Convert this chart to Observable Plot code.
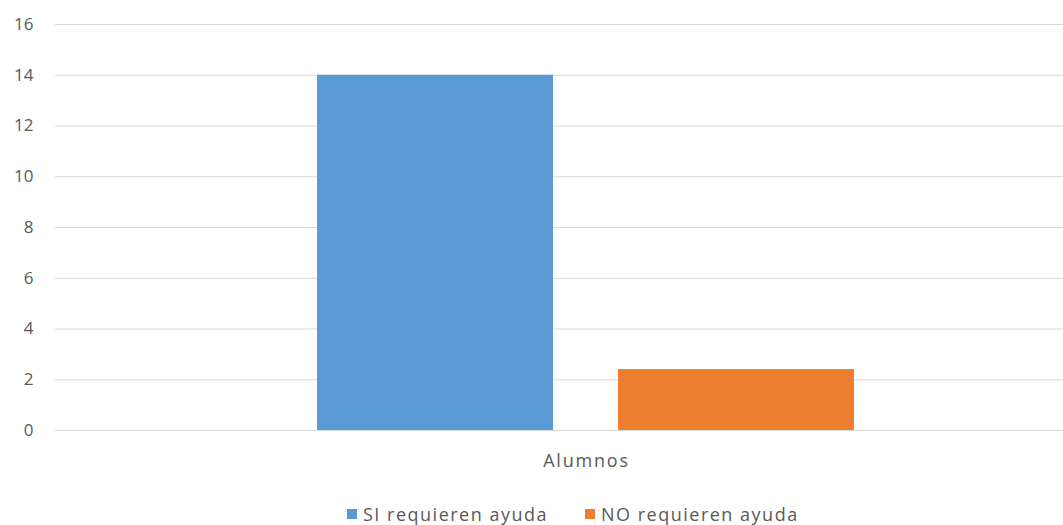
<!DOCTYPE html>
<html>
<head>
<meta charset="utf-8">
<script src="https://cdn.jsdelivr.net/npm/d3@7"></script>
<script src="https://cdn.jsdelivr.net/npm/@observablehq/plot@0.6"></script>
<style>
  html, body { margin: 0; padding: 0; background: #fff; }
  #wrap { width: 1063px; overflow: hidden; font-family: "Open Sans", sans-serif; }
  #wrap [class$="-swatch"] { margin-right: 37px; letter-spacing: 1.5px; }
  #wrap [class$="-swatch"] svg { margin-right: 6px; }
  #wrap g[aria-label="fx-axis tick label"] text { letter-spacing: 1.8px; }
</style>
</head>
<body>
<div id="wrap"></div>
<script>
const categories = ["Alumnos"];
const series = ["SI requieren ayuda", "NO requieren ayuda"];
const values = [14, 2.4];
const colors = ["#5B9BD5", "#ED7D31"];
const yTicks = [0, 2, 4, 6, 8, 10, 12, 14, 16];

const rows = series.map((s, i) => ({category: categories[0], series: s, value: values[i]}));

const chart = Plot.plot({
  width: 1118,
  height: 480,
  marginLeft: 55,
  marginRight: 1,
  marginTop: 24,
  marginBottom: 50,
  style: {maxWidth: "none", fontFamily: "'Open Sans', sans-serif", fontSize: "16px", color: "#595959", background: "#fff", overflow: "hidden"},
  fx: {domain: categories, padding: 0, label: null, axis: null},
  x: {domain: series, paddingInner: 0.2156, paddingOuter: 0.869, axis: null},
  y: {domain: [0, 16], ticks: yTicks, label: null},
  color: {domain: series, range: colors},
  marks: [
    Plot.gridY(yTicks, {stroke: "#d9d9d9", strokeOpacity: 1, strokeWidth: 1.2}),
    Plot.axisY(yTicks, {tickSize: 0, tickPadding: 22, fill: "#595959", fontSize: 17, label: null}),
    Plot.axisFx({anchor: "bottom", tickSize: 0, tickPadding: 24, fill: "#595959", fontSize: 18, label: null}),
    Plot.barY(rows, {fx: "category", x: "series", y: "value", fill: "series"})
  ]
});

const wrap = document.getElementById("wrap");
wrap.appendChild(chart);

const legend = Plot.legend({
  color: {domain: series, range: colors},
  swatchSize: 10,
  style: {justifyContent: "flex-start", fontFamily: "'Open Sans', sans-serif", fontSize: "18px", color: "#595959", marginLeft: "347px", minHeight: "33px", marginTop: "17px"}
});
wrap.appendChild(legend);
</script>
</body>
</html>
